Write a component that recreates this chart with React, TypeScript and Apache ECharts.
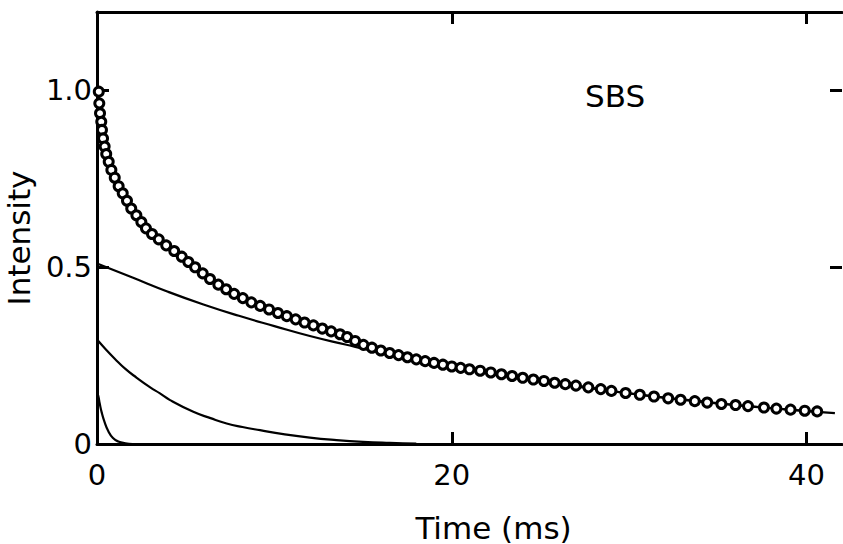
import React, { useEffect, useRef } from "react";
import * as echarts from "echarts";

// Measured decay (open circles): [time ms, intensity]
const measuredT = [
  0.1, 0.13, 0.17, 0.24, 0.28, 0.34, 0.43, 0.52, 0.66, 0.81, 1.0, 1.22, 1.45, 1.69, 1.93, 2.22, 2.5, 2.76, 3.1, 3.48,
  3.9, 4.35, 4.78, 5.15, 5.53, 5.96, 6.37, 6.84, 7.28, 7.73, 8.22, 8.7, 9.2, 9.7, 10.2, 10.7, 11.2, 11.7, 12.2, 12.7,
  13.2, 13.7, 14.1, 14.55, 15.02, 15.5, 16.0, 16.5, 17.0, 17.5, 18.0, 18.5, 19.0, 19.5, 20.0, 20.5, 21.0, 21.6, 22.2,
  22.8, 23.4, 24.0, 24.6, 25.2, 25.8, 26.4, 27.0, 27.7, 28.4, 29.0, 29.8, 30.6, 31.4, 32.2, 32.9, 33.7, 34.4, 35.2,
  36.0, 36.7, 37.6, 38.3, 39.1, 39.9, 40.6,
];
const measuredI = [
  0.995, 0.962, 0.934, 0.91, 0.887, 0.863, 0.84, 0.819, 0.797, 0.774, 0.752, 0.728, 0.708, 0.687, 0.665, 0.646, 0.627,
  0.609, 0.593, 0.578, 0.561, 0.545, 0.529, 0.514, 0.499, 0.482, 0.466, 0.45, 0.437, 0.424, 0.412, 0.4, 0.39, 0.38,
  0.37, 0.361, 0.352, 0.343, 0.335, 0.326, 0.318, 0.31, 0.302, 0.291, 0.28, 0.272, 0.264, 0.257, 0.251, 0.245, 0.239,
  0.234, 0.229, 0.224, 0.219, 0.215, 0.211, 0.207, 0.202, 0.197, 0.192, 0.187, 0.182, 0.178, 0.173, 0.169, 0.165,
  0.16, 0.155, 0.15, 0.144, 0.139, 0.134, 0.129, 0.125, 0.121, 0.117, 0.113, 0.11, 0.107, 0.103, 0.1, 0.097, 0.094,
  0.092,
];

// Slow component
const slowT = [0, 2, 4, 6, 8, 10, 12, 14, 16, 18, 20, 22, 24, 26, 28, 30, 32, 34, 36, 38, 40, 41.6];
const slowI = [
  0.51, 0.47, 0.43, 0.394, 0.362, 0.333, 0.305, 0.281, 0.258, 0.237, 0.218, 0.2, 0.184, 0.169, 0.156, 0.143, 0.131,
  0.121, 0.11, 0.101, 0.093, 0.087,
];

// Intermediate component
const midT = [0, 0.5, 1, 1.6, 2.24, 3, 3.55, 4.12, 5.43, 6.4, 7.31, 8.2, 9.19, 10.5, 12, 13.5, 15, 16.5, 18];
const midI = [
  0.295, 0.267, 0.241, 0.212, 0.187, 0.16, 0.143, 0.124, 0.091, 0.073, 0.058, 0.048, 0.039, 0.028, 0.018, 0.011,
  0.006, 0.003, 0.001,
];

// Fast component
const fastT = [0, 0.07, 0.15, 0.26, 0.4, 0.64, 0.9, 1.2, 1.6, 2.0];
const fastI = [0.145, 0.136, 0.115, 0.09, 0.066, 0.036, 0.017, 0.007, 0.002, 0];

const xLabelValues = [0, 20, 40];
const xTickValues = [20, 40];
const yLabelValues = [0, 0.5, 1.0];
const yTickValues = [0.5, 1.0];

const zip = (a: number[], b: number[]) => a.map((v, i) => [v, b[i]]);

const FONT = "DejaVu Sans";

export default function App() {
  const ref = useRef<HTMLDivElement>(null);
  useEffect(() => {
    if (!ref.current) return;
    const chart = echarts.init(ref.current, null, { renderer: "svg" });
    const axisLine = () => ({ show: true, onZero: false, lineStyle: { color: "#000", width: 3 } });
    const tick = (vals: number[]) => ({
      show: true,
      inside: true,
      length: 12,
      customValues: vals,
      lineStyle: { color: "#000", width: 3 },
    });
    const lineSeries = (name: string, t: number[], v: number[]) => ({
      name,
      type: "line",
      data: zip(t, v),
      showSymbol: false,
      smooth: 0.5,
      lineStyle: { color: "#000", width: 2.2 },
    });
    chart.setOption({
      animation: false,
      backgroundColor: "#fff",
      grid: {
        left: 97,
        top: 12,
        width: 745,
        height: 432,
        containLabel: false,
        outerBoundsMode: "none",
      },
      xAxis: [
        {
          type: "value",
          gridIndex: 0,
          min: 0,
          max: 42,
          interval: 20,
          position: "bottom",
          axisLine: axisLine(),
          axisTick: tick(xTickValues),
          splitLine: { show: false },
          axisLabel: {
            customValues: xLabelValues,
            margin: 16,
            color: "#000",
            fontFamily: FONT,
            fontSize: 29,
            formatter: (v: number) => String(v),
          },
          name: "Time (ms)",
          nameLocation: "middle",
          nameGap: 68,
          nameTextStyle: {
            color: "#000",
            fontFamily: FONT,
            fontSize: 31,
            lineHeight: 31,
            padding: [0, 0, 0, 48],
          },
        },
        {
          type: "value",
          gridIndex: 0,
          min: 0,
          max: 42,
          interval: 20,
          position: "top",
          axisLine: axisLine(),
          axisTick: tick(xTickValues),
          axisLabel: { show: false },
          splitLine: { show: false },
        },
      ],
      yAxis: [
        {
          type: "value",
          gridIndex: 0,
          min: 0,
          max: 1.22,
          interval: 0.5,
          position: "left",
          axisLine: axisLine(),
          axisTick: tick(yTickValues),
          splitLine: { show: false },
          axisLabel: {
            customValues: yLabelValues,
            margin: 5,
            color: "#000",
            fontFamily: FONT,
            fontSize: 29,
            formatter: (v: number) => (v === 0 ? "0" : v.toFixed(1)),
          },
          name: "Intensity",
          nameLocation: "middle",
          nameGap: 62,
          nameTextStyle: { color: "#000", fontFamily: FONT, fontSize: 31, padding: [0, 20, 0, 0] },
        },
        {
          type: "value",
          gridIndex: 0,
          min: 0,
          max: 1.22,
          interval: 0.5,
          position: "right",
          axisLine: { show: false, onZero: false },
          axisTick: tick(yTickValues),
          axisLabel: { show: false },
          splitLine: { show: false },
        },
      ],
      graphic: [
        {
          type: "text",
          left: 585,
          top: 80,
          style: { text: "SBS", fill: "#000", font: `31px '${FONT}'` },
        },
      ],
      series: [
        lineSeries("slow", slowT, slowI),
        lineSeries("intermediate", midT, midI),
        lineSeries("fast", fastT, fastI),
        {
          name: "measured",
          type: "line",
          data: zip(measuredT, measuredI),
          symbol: "circle",
          symbolSize: 9,
          showAllSymbol: true,
          itemStyle: { color: "#fff", borderColor: "#000", borderWidth: 3 },
          lineStyle: { color: "#000", width: 2 },
          z: 5,
        },
      ],
    });
    return () => chart.dispose();
  }, []);
  return (
    <div
      ref={ref}
      style={{ position: "fixed", left: 0, top: 0, width: 843, height: 544, background: "#fff" }}
    />
  );
}
